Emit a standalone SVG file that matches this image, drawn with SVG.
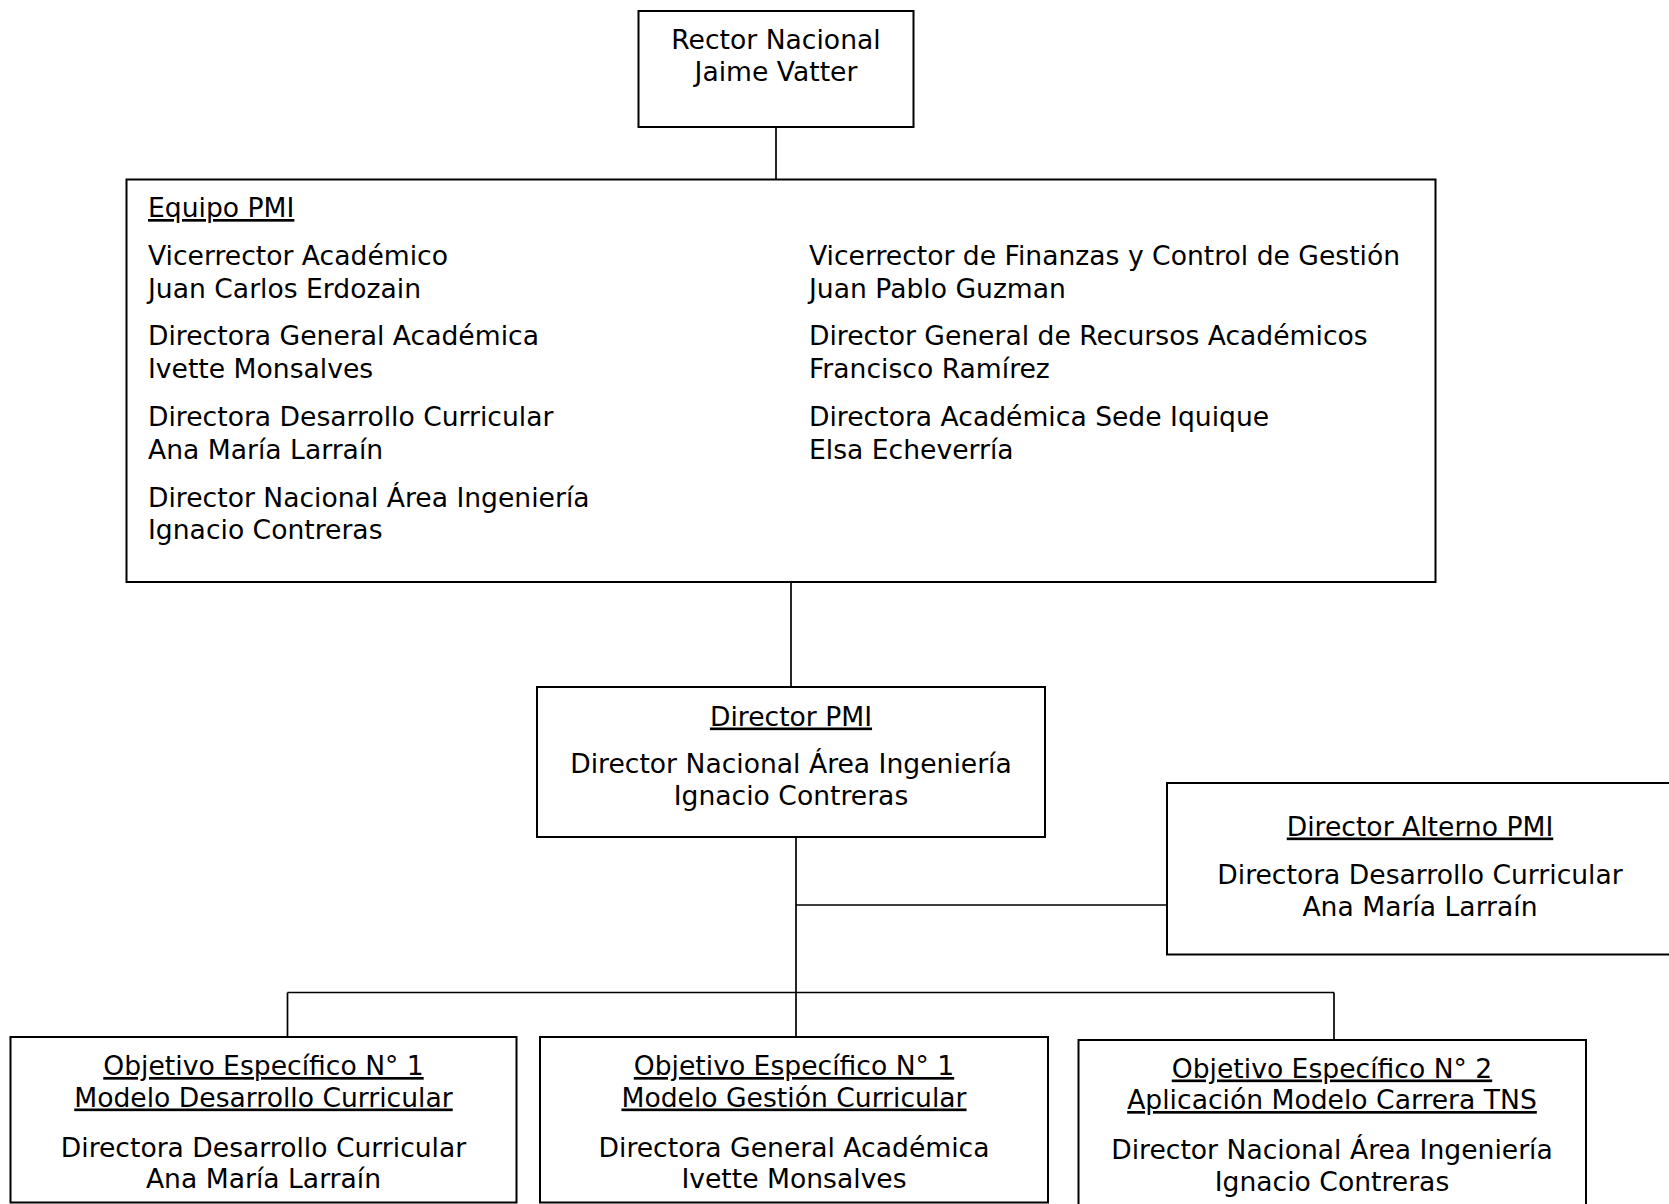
<svg xmlns="http://www.w3.org/2000/svg" width="1669" height="1204" viewBox="0 0 1669 1204">
<style>
  .box { fill: #ffffff; stroke: #000000; stroke-width: 2; }
  .conn { fill: none; stroke: #000000; stroke-width: 1.7; }
  text { font-family: "DejaVu Sans", Verdana, sans-serif; font-size: 26.6px; fill: #000000; }
  .c { text-anchor: middle; }
  .u { text-decoration: underline; }
</style>
<rect x="0" y="0" width="1669" height="1204" fill="#ffffff"/>
<g id="connectors">
  <line class="conn" x1="776" y1="127" x2="776" y2="179.5"/>
  <line class="conn" x1="791" y1="582" x2="791" y2="687"/>
  <line class="conn" x1="796" y1="837" x2="796" y2="1037"/>
  <line class="conn" x1="796" y1="905" x2="1167" y2="905"/>
  <line class="conn" x1="287.5" y1="992.5" x2="1334" y2="992.5"/>
  <line class="conn" x1="287.5" y1="992.5" x2="287.5" y2="1037"/>
  <line class="conn" x1="1334" y1="992.5" x2="1334" y2="1040"/>
</g>
<g id="rector">
  <rect class="box" x="638.5" y="11" width="275" height="116"/>
  <text class="c" x="776" y="48.5">Rector Nacional</text>
  <text class="c" x="776" y="81">Jaime Vatter</text>
</g>
<g id="equipo-pmi">
  <rect class="box" x="126.5" y="179.5" width="1309" height="402.5"/>
  <text class="u" x="148" y="217">Equipo PMI</text>
  <text x="148" y="265">Vicerrector Académico</text>
  <text x="148" y="298">Juan Carlos Erdozain</text>
  <text x="148" y="345">Directora General Académica</text>
  <text x="148" y="378">Ivette Monsalves</text>
  <text x="148" y="426">Directora Desarrollo Curricular</text>
  <text x="148" y="458.5">Ana María Larraín</text>
  <text x="148" y="507">Director Nacional Área Ingeniería</text>
  <text x="148" y="539">Ignacio Contreras</text>
  <text x="809" y="265">Vicerrector de Finanzas y Control de Gestión</text>
  <text x="809" y="298">Juan Pablo Guzman</text>
  <text x="809" y="345">Director General de Recursos Académicos</text>
  <text x="809" y="378">Francisco Ramírez</text>
  <text x="809" y="426">Directora Académica Sede Iquique</text>
  <text x="809" y="458.5">Elsa Echeverría</text>
</g>
<g id="director-pmi">
  <rect class="box" x="537" y="687" width="508" height="150"/>
  <text class="c u" x="791" y="725.5">Director PMI</text>
  <text class="c" x="791" y="772.5">Director Nacional Área Ingeniería</text>
  <text class="c" x="791" y="804.5">Ignacio Contreras</text>
</g>
<g id="director-alterno">
  <rect class="box" x="1167" y="783" width="510" height="171.5"/>
  <text class="c u" x="1420" y="835.5">Director Alterno PMI</text>
  <text class="c" x="1420" y="883.5">Directora Desarrollo Curricular</text>
  <text class="c" x="1420" y="916">Ana María Larraín</text>
</g>
<g id="objetivo-1a">
  <rect class="box" x="10.5" y="1037" width="506" height="165.5"/>
  <text class="c u" x="263.5" y="1075">Objetivo Específico N° 1</text>
  <text class="c u" x="263.5" y="1106.5">Modelo Desarrollo Curricular</text>
  <text class="c" x="263.5" y="1156.5">Directora Desarrollo Curricular</text>
  <text class="c" x="263.5" y="1188">Ana María Larraín</text>
</g>
<g id="objetivo-1b">
  <rect class="box" x="540" y="1037" width="508" height="165.5"/>
  <text class="c u" x="794" y="1075">Objetivo Específico N° 1</text>
  <text class="c u" x="794" y="1106.5">Modelo Gestión Curricular</text>
  <text class="c" x="794" y="1156.5">Directora General Académica</text>
  <text class="c" x="794" y="1188">Ivette Monsalves</text>
</g>
<g id="objetivo-2">
  <rect class="box" x="1078.5" y="1040" width="507.5" height="170"/>
  <text class="c u" x="1332" y="1077.5">Objetivo Específico N° 2</text>
  <text class="c u" x="1332" y="1109">Aplicación Modelo Carrera TNS</text>
  <text class="c" x="1332" y="1158.5">Director Nacional Área Ingeniería</text>
  <text class="c" x="1332" y="1191">Ignacio Contreras</text>
</g>
</svg>
